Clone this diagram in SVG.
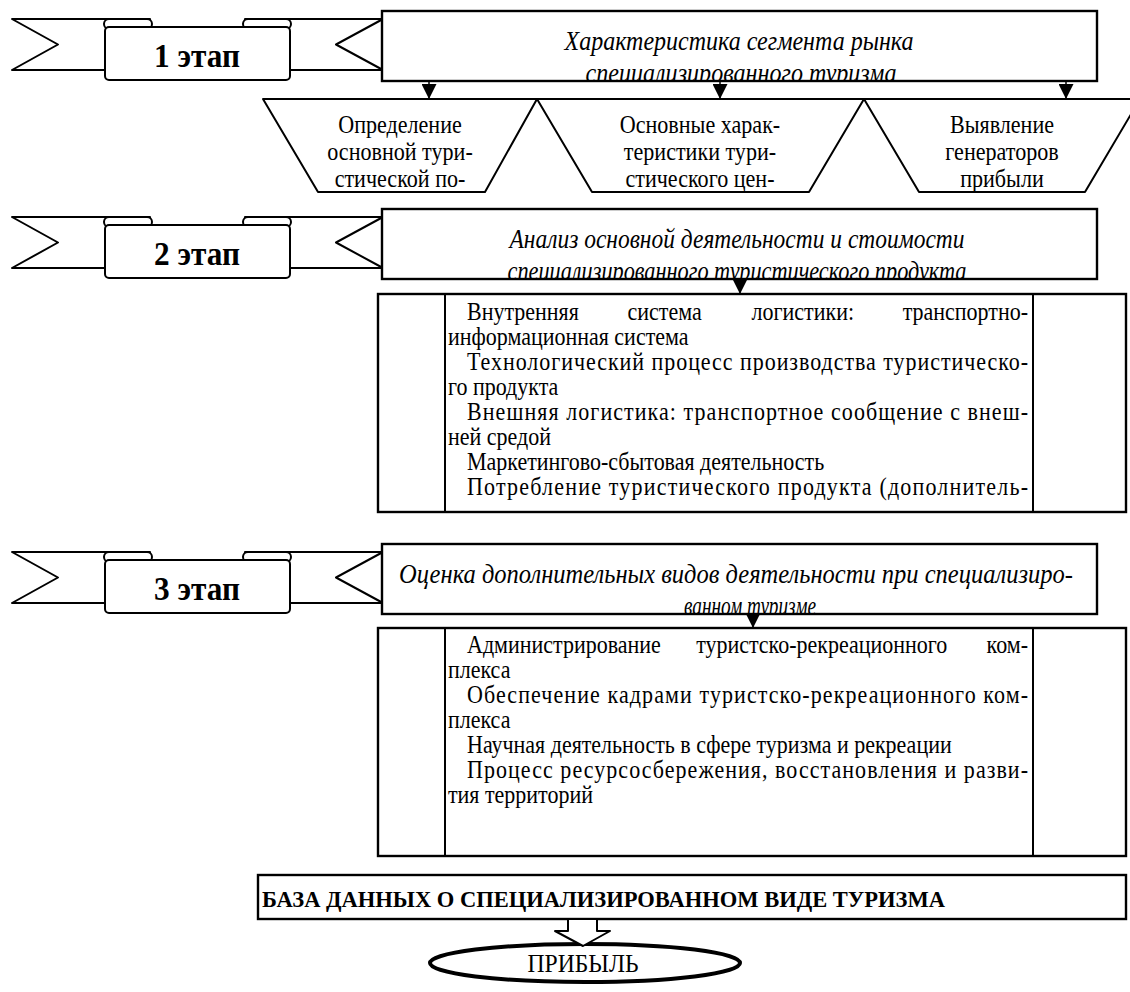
<svg xmlns="http://www.w3.org/2000/svg" xmlns:xlink="http://www.w3.org/1999/xlink" width="1130" height="992" viewBox="0 0 1130 992">
  <style>
    .ln{fill:#fff;stroke:#000;stroke-width:2;stroke-linejoin:round}
    .bx{fill:#fff;stroke:#000;stroke-width:2.4}
    .sep{stroke:#000;stroke-width:2}
    text{font-family:'Liberation Serif','Times New Roman',serif;fill:#000}
    .it{font-style:italic;font-size:28px;text-anchor:middle}
    .tx{font-size:25px}
    .tc{font-size:26px;text-anchor:middle}
    .lb{font-weight:bold;font-size:34px;text-anchor:middle}
    .end{text-anchor:end}
    .con{stroke:#000;stroke-width:1.5;fill:none;marker-end:url(#tri)}
  </style>
  <defs>
    <marker id="tri" viewBox="0 0 10 10" refX="10" refY="5" markerWidth="15" markerHeight="15" markerUnits="userSpaceOnUse" orient="auto">
      <path d="M0,0 L10,5 L0,10 Z" fill="#000"/>
    </marker>
    <!-- scroll banner used for each stage title -->
    <g id="ribbon">
      <path class="ln" d="M12,19 H150 V70 H12 L58,44.5 Z"/>
      <path class="ln" d="M383,19 H245 V70 H383 L336,44.5 Z"/>
      <rect class="ln" x="104" y="19" width="48" height="10" rx="5"/>
      <rect class="ln" x="243" y="19" width="48" height="10" rx="5"/>
      <rect class="ln" x="105" y="27" width="185" height="53" rx="4"/>
    </g>
    <clipPath id="clip1"><rect x="383" y="12" width="713" height="68"/></clipPath>
    <clipPath id="clip2"><rect x="383" y="210" width="713" height="68"/></clipPath>
    <clipPath id="clip3"><rect x="383" y="545" width="713" height="68"/></clipPath>
  </defs>

  <!-- stage banners -->
  <g id="stage1">
    <use xlink:href="#ribbon"/>
    <text class="lb" x="197" y="67" textLength="86" lengthAdjust="spacingAndGlyphs">1 этап</text>
  </g>
  <g id="stage2">
    <use xlink:href="#ribbon" y="198"/>
    <text class="lb" x="197" y="265" textLength="86" lengthAdjust="spacingAndGlyphs">2 этап</text>
  </g>
  <g id="stage3">
    <use xlink:href="#ribbon" y="533"/>
    <text class="lb" x="197" y="600" textLength="86" lengthAdjust="spacingAndGlyphs">3 этап</text>
  </g>

  <!-- stage headings (second line runs under the frame) -->
  <g id="head1">
    <rect class="bx" x="382" y="11" width="715" height="70"/>
    <g clip-path="url(#clip1)">
      <text class="it" x="739" y="50" textLength="349" lengthAdjust="spacingAndGlyphs">Характеристика сегмента рынка</text>
      <text class="it" x="741" y="82" textLength="311" lengthAdjust="spacingAndGlyphs">специализированного туризма</text>
    </g>
  </g>
  <g id="head2">
    <rect class="bx" x="382" y="209" width="715" height="70"/>
    <g clip-path="url(#clip2)">
      <text class="it" x="737" y="248" textLength="455" lengthAdjust="spacingAndGlyphs">Анализ основной деятельности и стоимости</text>
      <text class="it" x="737" y="280" textLength="459" lengthAdjust="spacingAndGlyphs">специализированного туристического продукта</text>
    </g>
  </g>
  <g id="head3">
    <rect class="bx" x="382" y="544" width="715" height="70"/>
    <g clip-path="url(#clip3)">
      <text class="it" x="736" y="583" textLength="674" lengthAdjust="spacingAndGlyphs">Оценка дополнительных видов деятельности при специализиро-</text>
      <text class="it" x="750" y="615" textLength="132" lengthAdjust="spacingAndGlyphs">ванном туризме</text>
    </g>
  </g>

  <!-- stage 1 sub-blocks (text narrowed horizontally) -->
  <g id="seg1">
    <polygon class="ln" points="263,99 537,99 485,192 318,192"/>
    <g transform="matrix(0.85 0 0 1 60 0)">
      <text class="tc" x="400" y="133">Определение</text>
      <text class="tc" x="400" y="160">основной тури-</text>
      <text class="tc" x="400" y="187">стической по-</text>
    </g>
  </g>
  <g id="seg2">
    <polygon class="ln" points="537,99 864,99 809,192 592,192"/>
    <g transform="matrix(0.85 0 0 1 105 0)">
      <text class="tc" x="700" y="133">Основные харак-</text>
      <text class="tc" x="700" y="160">теристики тури-</text>
      <text class="tc" x="700" y="187">стического цен-</text>
    </g>
  </g>
  <g id="seg3">
    <polygon class="ln" points="864,99 1140,99 1085,192 919,192"/>
    <g transform="matrix(0.85 0 0 1 150.3 0)">
      <text class="tc" x="1002" y="133">Выявление</text>
      <text class="tc" x="1002" y="160">генераторов</text>
      <text class="tc" x="1002" y="187">прибыли</text>
    </g>
  </g>

  <!-- stage 2 activity list -->
  <g id="list2">
    <rect class="bx" x="378" y="294" width="748" height="218"/>
    <line class="sep" x1="445" y1="294" x2="445" y2="512"/>
    <line class="sep" x1="1033" y1="294" x2="1033" y2="512"/>
    <!-- local x = (X - 53.8) / 0.88 ; 448 stays 448 -->
    <g transform="matrix(0.88 0 0 1 53.76 0)">
      <text class="tx" x="469.6" y="320">Внутренняя</text>
      <text class="tx" x="652" y="320">система</text>
      <text class="tx" x="793" y="320">логистики:</text>
      <text class="tx end" x="1107.1" y="320">транспортно-</text>
      <text class="tx" x="448" y="345">информационная система</text>
      <text class="tx" x="469.6" y="370" textLength="637.5" lengthAdjust="spacing">Технологический процесс производства туристическо-</text>
      <text class="tx" x="448" y="395">го продукта</text>
      <text class="tx" x="469.6" y="420" textLength="637.5" lengthAdjust="spacing">Внешняя логистика: транспортное сообщение с внеш-</text>
      <text class="tx" x="448" y="445">ней средой</text>
      <text class="tx" x="469.6" y="470">Маркетингово-сбытовая деятельность</text>
      <text class="tx" x="469.6" y="495" textLength="637.5" lengthAdjust="spacing">Потребление туристического продукта (дополнитель-</text>
    </g>
  </g>

  <!-- stage 3 activity list -->
  <g id="list3">
    <rect class="bx" x="378" y="628" width="748" height="228"/>
    <line class="sep" x1="445" y1="628" x2="445" y2="856"/>
    <line class="sep" x1="1033" y1="628" x2="1033" y2="856"/>
    <g transform="matrix(0.88 0 0 1 53.76 0)">
      <text class="tx" x="469.6" y="653">Администрирование</text>
      <text class="tx" x="730" y="653">туристско-рекреационного</text>
      <text class="tx end" x="1107.1" y="653">ком-</text>
      <text class="tx" x="448" y="678">плекса</text>
      <text class="tx" x="469.6" y="703" textLength="637.5" lengthAdjust="spacing">Обеспечение кадрами туристско-рекреационного ком-</text>
      <text class="tx" x="448" y="728">плекса</text>
      <text class="tx" x="469.6" y="753">Научная деятельность в сфере туризма и рекреации</text>
      <text class="tx" x="469.6" y="778" textLength="637.5" lengthAdjust="spacing">Процесс ресурсосбережения, восстановления и разви-</text>
      <text class="tx" x="448" y="803">тия территорий</text>
    </g>
  </g>

  <!-- database bar -->
  <g id="database">
    <rect class="bx" x="258" y="875" width="868" height="44"/>
    <text x="262" y="907" font-weight="bold" font-size="24" textLength="683" lengthAdjust="spacingAndGlyphs">БАЗА ДАННЫХ О СПЕЦИАЛИЗИРОВАННОМ ВИДЕ ТУРИЗМА</text>
  </g>

  <!-- profit -->
  <g id="profit">
    <ellipse cx="585" cy="963" rx="155" ry="19" fill="#fff" stroke="#000" stroke-width="4"/>
    <text class="tc" x="583" y="972" textLength="111" lengthAdjust="spacingAndGlyphs">ПРИБЫЛЬ</text>
  </g>

  <!-- connectors -->
  <g id="connectors">
    <line class="con" x1="429" y1="81" x2="429" y2="99"/>
    <line class="con" x1="720" y1="81" x2="720" y2="99"/>
    <line class="con" x1="1066" y1="81" x2="1066" y2="99"/>
    <line class="con" x1="740" y1="279" x2="740" y2="294"/>
    <line class="con" x1="753" y1="614" x2="753" y2="628"/>
    <polygon class="ln" points="568,919 597,919 597,931 610,931 583,946 555,931 568,931"/>
  </g>
</svg>
